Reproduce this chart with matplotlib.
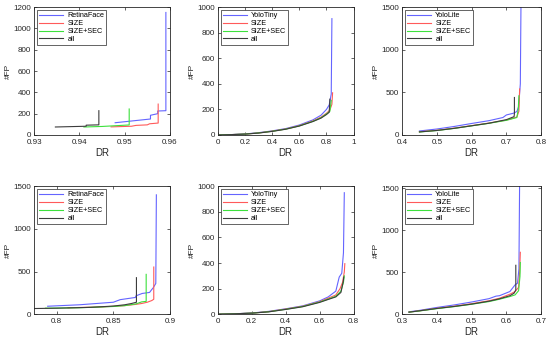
import numpy as np
import matplotlib.pyplot as plt

plt.rcParams['font.family'] = ['Liberation Sans', 'DejaVu Sans']

# top-left: RetinaFace
rf1_dr = [0.9479, 0.9557, 0.9557, 0.9573, 0.9573, 0.9591, 0.9591]
rf1_fp = [115, 150, 185, 200, 225, 228, 1150]
size1_dr = [0.9470, 0.9515, 0.9525, 0.9550, 0.9555, 0.9574, 0.9574]
size1_fp = [76, 82, 90, 95, 105, 112, 290]
sec1_dr = [0.9410, 0.9450, 0.9510, 0.9510]
sec1_fp = [75, 80, 94, 244]
all1_dr = [0.9347, 0.9415, 0.9415, 0.9443, 0.9443]
all1_fp = [75, 82, 92, 95, 228]

# top-middle: YoloTiny
yt2_dr = [0, 0.1, 0.2, 0.3, 0.4, 0.5, 0.6, 0.7, 0.76, 0.8, 0.82, 0.835, 0.84]
yt2_fp = [0, 3, 8, 18, 32, 50, 78, 118, 155, 200, 235, 320, 910]
size2_dr = [0, 0.1, 0.2, 0.3, 0.4, 0.5, 0.6, 0.7, 0.76, 0.8, 0.825, 0.84, 0.845]
size2_fp = [0, 3, 7, 16, 30, 47, 73, 110, 140, 170, 195, 240, 330]
sec2_dr = [0, 0.1, 0.2, 0.3, 0.4, 0.5, 0.6, 0.7, 0.76, 0.8, 0.825, 0.835]
sec2_fp = [0, 3, 7, 16, 29, 46, 71, 107, 135, 165, 185, 270]
all2_dr = [0, 0.1, 0.2, 0.3, 0.4, 0.5, 0.6, 0.7, 0.76, 0.8, 0.82, 0.825]
all2_fp = [0, 3, 7, 15, 28, 45, 70, 105, 132, 160, 178, 280]

# top-right: YoloLite
yl3_dr = [0.45, 0.5, 0.55, 0.6, 0.65, 0.69, 0.70, 0.72, 0.73, 0.735, 0.74, 0.742]
yl3_fp = [47, 70, 100, 135, 168, 205, 235, 255, 275, 330, 600, 1600]
size3_dr = [0.45, 0.5, 0.55, 0.6, 0.65, 0.7, 0.73, 0.736, 0.738]
size3_fp = [38, 55, 80, 110, 140, 175, 210, 280, 540]
sec3_dr = [0.45, 0.5, 0.55, 0.6, 0.65, 0.7, 0.73, 0.734, 0.736]
sec3_fp = [35, 52, 77, 107, 137, 172, 205, 300, 460]
all3_dr = [0.45, 0.5, 0.55, 0.6, 0.65, 0.7, 0.722, 0.723, 0.723]
all3_fp = [36, 53, 78, 108, 138, 180, 215, 250, 440]

# bottom-left: RetinaFace
rf4_dr = [0.792, 0.82, 0.85, 0.856, 0.8695, 0.870, 0.8755, 0.882, 0.884, 0.885, 0.8875, 0.888]
rf4_fp = [93, 110, 140, 170, 196, 215, 243, 255, 290, 305, 360, 1400]
size4_dr = [0.81, 0.84, 0.86, 0.87, 0.875, 0.88, 0.884, 0.8857, 0.8857]
size4_fp = [75, 85, 100, 115, 125, 140, 160, 175, 553]
sec4_dr = [0.79, 0.82, 0.85, 0.86, 0.87, 0.875, 0.879, 0.879]
sec4_fp = [70, 75, 90, 100, 120, 144, 150, 467]
all4_dr = [0.78, 0.80, 0.83, 0.85, 0.86, 0.866, 0.8704, 0.8704]
all4_fp = [66, 70, 80, 95, 110, 125, 140, 428]

# bottom-middle: YoloTiny
yt5_dr = [0, 0.1, 0.2, 0.3, 0.4, 0.5, 0.6, 0.65, 0.695, 0.715, 0.73, 0.74, 0.745]
yt5_fp = [0, 3, 9, 22, 42, 65, 104, 135, 180, 290, 320, 480, 950]
size5_dr = [0, 0.1, 0.2, 0.3, 0.4, 0.5, 0.6, 0.65, 0.695, 0.72, 0.735, 0.745, 0.748]
size5_fp = [0, 3, 8, 20, 40, 62, 98, 125, 150, 200, 250, 330, 395]
sec5_dr = [0, 0.1, 0.2, 0.3, 0.4, 0.5, 0.6, 0.65, 0.695, 0.725, 0.74, 0.745]
sec5_fp = [0, 3, 8, 19, 38, 60, 95, 118, 140, 180, 250, 300]
all5_dr = [0, 0.1, 0.2, 0.3, 0.4, 0.5, 0.6, 0.65, 0.695, 0.725, 0.738, 0.742]
all5_fp = [0, 3, 8, 18, 37, 58, 92, 115, 135, 170, 250, 290]

# bottom-right: YoloLite
yl6_dr = [0.32, 0.35, 0.4, 0.45, 0.5, 0.55, 0.57, 0.58, 0.61, 0.625, 0.632, 0.636, 0.638]
yl6_fp = [28, 45, 80, 110, 145, 185, 215, 220, 270, 350, 370, 540, 1600]
size6_dr = [0.32, 0.35, 0.4, 0.45, 0.5, 0.55, 0.58, 0.61, 0.625, 0.635, 0.638, 0.64]
size6_fp = [25, 40, 70, 95, 125, 160, 190, 238, 270, 320, 500, 738]
sec6_dr = [0.32, 0.35, 0.4, 0.45, 0.5, 0.55, 0.58, 0.61, 0.625, 0.635, 0.639, 0.64]
sec6_fp = [24, 38, 66, 90, 118, 150, 178, 210, 230, 280, 450, 616]
all6_dr = [0.32, 0.35, 0.4, 0.45, 0.5, 0.55, 0.58, 0.61, 0.622, 0.627, 0.627]
all6_fp = [24, 40, 68, 92, 120, 155, 183, 220, 250, 290, 583]

names = ['RetinaFace', 'YoloTiny', 'YoloLite', 'RetinaFace', 'YoloTiny', 'YoloLite']
curves = [
    [(rf1_dr, rf1_fp), (size1_dr, size1_fp), (sec1_dr, sec1_fp), (all1_dr, all1_fp)],
    [(yt2_dr, yt2_fp), (size2_dr, size2_fp), (sec2_dr, sec2_fp), (all2_dr, all2_fp)],
    [(yl3_dr, yl3_fp), (size3_dr, size3_fp), (sec3_dr, sec3_fp), (all3_dr, all3_fp)],
    [(rf4_dr, rf4_fp), (size4_dr, size4_fp), (sec4_dr, sec4_fp), (all4_dr, all4_fp)],
    [(yt5_dr, yt5_fp), (size5_dr, size5_fp), (sec5_dr, sec5_fp), (all5_dr, all5_fp)],
    [(yl6_dr, yl6_fp), (size6_dr, size6_fp), (sec6_dr, sec6_fp), (all6_dr, all6_fp)],
]
xlims = [(0.93, 0.96), (0, 1), (0.4, 0.8), (0.78, 0.9), (0, 0.8), (0.3, 0.7)]
xticks = [[0.93, 0.94, 0.95, 0.96], [0, 0.2, 0.4, 0.6, 0.8, 1],
          [0.4, 0.5, 0.6, 0.7, 0.8], [0.8, 0.85, 0.9],
          [0, 0.2, 0.4, 0.6, 0.8], [0.3, 0.4, 0.5, 0.6, 0.7]]
ylims = [(0, 1200), (0, 1000), (0, 1500), (0, 1500), (0, 1000), (0, 1525)]
yticks = [np.arange(0, 1201, 200), np.arange(0, 1001, 200), [0, 500, 1000, 1500],
          [0, 500, 1000, 1500], np.arange(0, 1001, 200), [0, 500, 1000, 1500]]

colors = ['#6464ff', '#ff5a5a', '#3ce03c', '#3c3c3c']
suffix = ['SIZE', 'SIZE+SEC', 'all']

# axes boxes in figure fractions
lefts = [0.062, 0.396, 0.731]
widths = [0.247, 0.247, 0.253]
bottoms = [0.603, 0.076]
height = 0.376

fig = plt.figure(figsize=(5.5, 3.4), dpi=100)
for i in range(6):
    r, c = divmod(i, 3)
    ax = fig.add_axes([lefts[c], bottoms[r], widths[c], height])
    labels = [names[i]] + suffix
    for (dr, fp), col, lab in zip(curves[i], colors, labels):
        ax.plot(dr, fp, color=col, lw=0.8, label=lab)
    ax.set_xlim(xlims[i])
    ax.set_ylim(ylims[i])
    ax.set_xticks(xticks[i])
    ax.set_xticklabels([('%g' % v) for v in xticks[i]])
    ax.set_yticks(yticks[i])
    ax.tick_params(direction='in', length=2, width=0.5, labelsize=5.8,
                   colors='#262626', top=True, right=True)
    ax.tick_params(axis='x', pad=3)
    ax.tick_params(axis='y', pad=2)
    for s in ax.spines.values():
        s.set_linewidth(0.6)
        s.set_color('#262626')
    ax.set_xlabel('DR', fontsize=7, color='#262626', labelpad=1)
    ax.set_ylabel('#FP', fontsize=6, color='#262626', labelpad=1)
    leg = ax.legend(loc='upper left', fontsize=5.2, handlelength=3.3,
                    borderaxespad=0.4, fancybox=False, framealpha=1,
                    borderpad=0.3, labelspacing=0.12, handletextpad=0.6)
    leg.get_frame().set_edgecolor('#262626')
    leg.get_frame().set_linewidth(0.5)

fig.savefig('out.png', dpi=100)
